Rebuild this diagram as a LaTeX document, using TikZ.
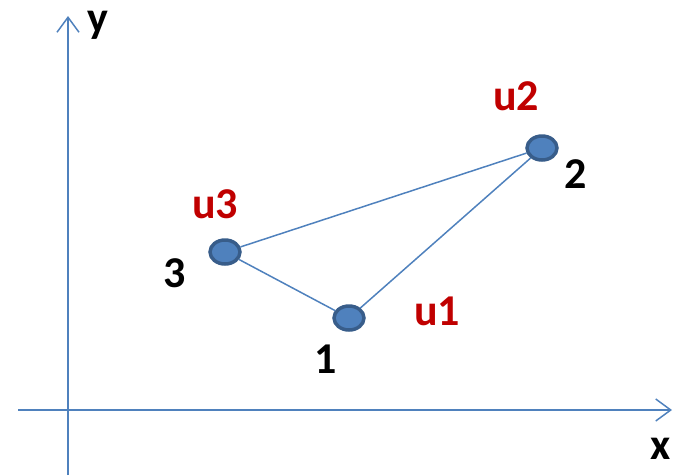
\documentclass[tikz,border=0pt]{standalone}
\usepackage{fontspec}
\setmainfont{Carlito}
\usetikzlibrary{shapes.geometric,arrows.meta}
\definecolor{axisblue}{RGB}{79,129,189}
\definecolor{nodefill}{RGB}{79,129,189}
\definecolor{nodeborder}{RGB}{56,93,138}
\definecolor{labred}{RGB}{192,0,0}
\tikzset{
  axis/.style={draw=axisblue, line width=1.5pt, -{Straight Barb[length=15pt,width=22pt,line width=1.5pt]}},
  vertex/.style={ellipse, draw=nodeborder, fill=nodefill, line width=3.5pt, minimum width=30pt, minimum height=24pt, inner sep=0pt},
  edge/.style={draw=axisblue, line width=1.5pt},
  lab/.style={anchor=base west, inner sep=0pt, font=\fontsize{44}{48}\selectfont\bfseries},
  redlab/.style={lab, text=labred},
}
\begin{document}
\begin{tikzpicture}[x=1pt,y=-1pt]
\useasboundingbox (0,0) rectangle (673,475);
\coordinate (yb) at (68,475);
\coordinate (yt) at (68,16);
\coordinate (xl) at (18,410);
\coordinate (xr) at (672,410);
\draw[axis] (yb) -- (yt);
\draw[axis] (xl) -- (xr);
\node[vertex] (n1) at (349,318) {};
\node[vertex] (n2) at (542,148) {};
\node[vertex] (n3) at (225,252) {};
\draw[edge] (n1) -- (n2);
\draw[edge] (n2) -- (n3);
\draw[edge] (n3) -- (n1);
\node[lab] (ly) at (87,32) {y};
\node[lab] (lx) at (650,459) {x};
\node[redlab] (u1) at (414,325) {u1};
\node[redlab] (u2) at (493,110) {u2};
\node[redlab] (u3) at (192,218) {u3};
\node[lab] (l1) at (314,373) {1};
\node[lab] (l2) at (564,188) {2};
\node[lab] (l3) at (163,287) {3};
\end{tikzpicture}
\end{document}
